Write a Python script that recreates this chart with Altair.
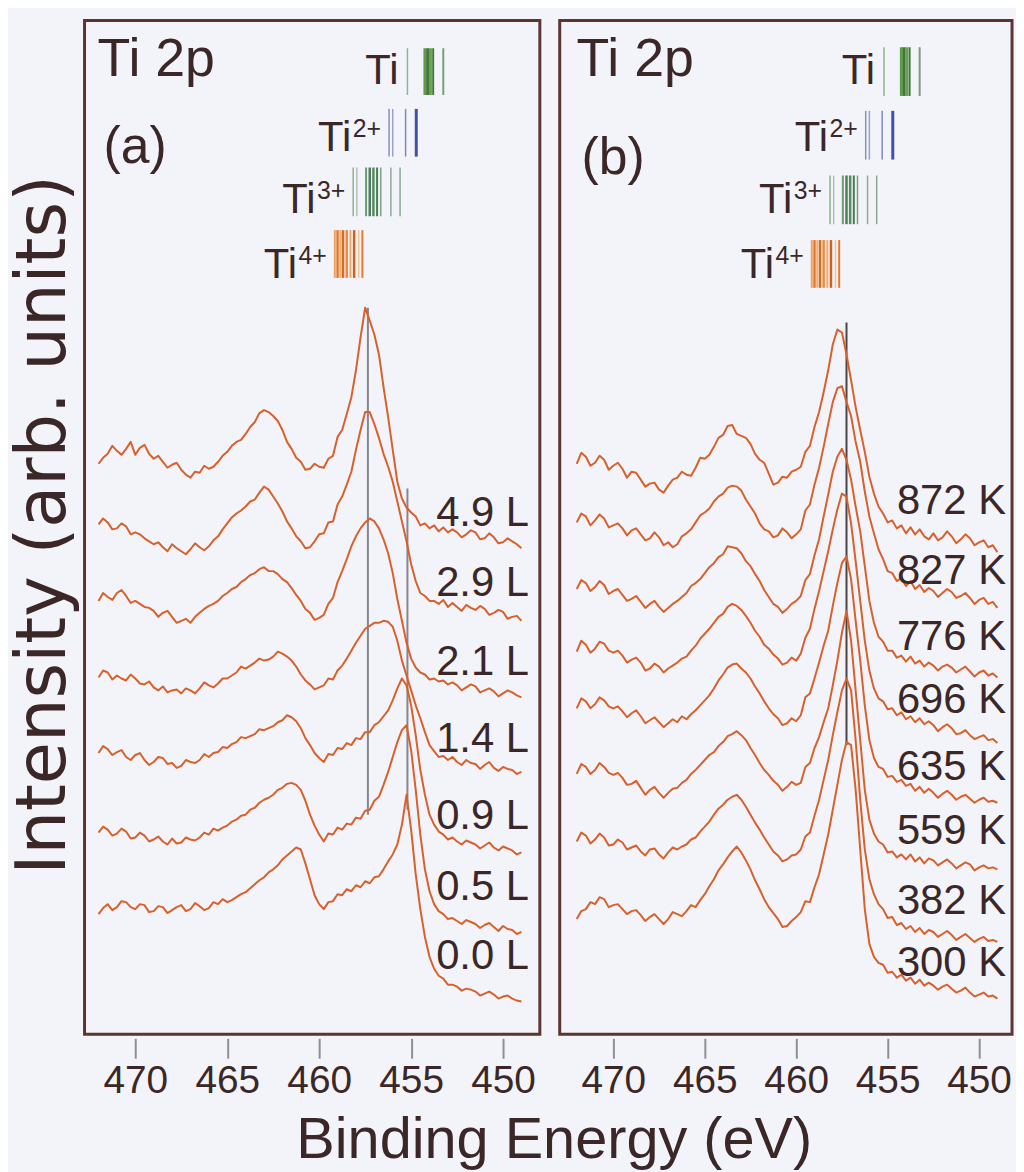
import altair as alt
import pandas as pd

# ---------------- data ----------------
# binding-energy grid (eV), shared by all spectra
energy = [472.0, 471.75, 471.5, 471.25, 471.0, 470.75, 470.5, 470.25, 470.0, 469.75,
          469.5, 469.25, 469.0, 468.75, 468.5, 468.25, 468.0, 467.75, 467.5, 467.25,
          467.0, 466.75, 466.5, 466.25, 466.0, 465.75, 465.5, 465.25, 465.0, 464.75,
          464.5, 464.25, 464.0, 463.75, 463.5, 463.25, 463.0, 462.75, 462.5, 462.25,
          462.0, 461.75, 461.5, 461.25, 461.0, 460.75, 460.5, 460.25, 460.0,
          459.75, 459.5, 459.25, 459.0, 458.75, 458.5, 458.25, 458.0, 457.75, 457.5,
          457.25, 457.0, 456.75, 456.5, 456.25, 456.0, 455.75, 455.5, 455.25, 455.0,
          454.75, 454.5, 454.25, 454.0, 453.75, 453.5, 453.25, 453.0,
          452.75, 452.5, 452.25, 452.0, 451.75, 451.5, 451.25, 451.0, 450.75, 450.5,
          450.25, 450.0, 449.75, 449.5, 449.25, 449.0]

# panel (a): O2 exposure series (stacked, arb. units)
a_names = ["4.9 L", "2.9 L", "2.1 L", "1.4 L", "0.9 L", "0.5 L", "0.0 L"]
a_4p9 = [574, 580, 584, 592, 587, 583, 589, 596, 583, 590, 593, 584, 579, 582, 576, 570, 573, 575, 568, 563,
         560, 566, 565, 572, 569, 571, 576, 582, 586, 592, 596, 598, 604, 611, 616, 625, 628, 626, 622, 617,
         608, 596, 589, 580, 576, 568, 569, 574, 571,
         570, 579, 582, 601, 608, 624, 641, 668, 701, 731, 718, 704, 684, 651, 621, 588, 556, 539, 530, 525,
         521, 512, 514, 509, 512, 506, 510, 505,
         508, 505, 500, 503, 507, 505, 498, 499, 504, 500, 494, 495, 499, 496, 493, 489]
a_2p9 = [513, 519, 515, 508, 509, 514, 511, 503, 505, 503, 499, 496, 493, 495, 490, 486, 493, 489, 486, 483,
         488, 494, 490, 487, 491, 497, 501, 508, 514, 520, 524, 527, 531, 536, 538, 545, 551, 548, 541, 534,
         526, 516, 509, 501, 496, 489, 490, 496, 503,
         504, 515, 516, 533, 541, 553, 566, 588, 608, 626, 626, 614, 600, 584, 571, 556, 536, 516, 496, 473,
         456, 444, 441, 436, 436, 433, 437, 430,
         434, 430, 426, 432, 429, 427, 431, 428, 422, 424, 427, 425, 418, 420, 421, 416]
a_2p1 = [436, 444, 440, 437, 444, 447, 441, 434, 436, 433, 430, 429, 426, 420, 424, 426, 420, 414, 416, 418,
         414, 420, 424, 428, 431, 433, 436, 441, 444, 448, 450, 455, 458, 462, 464, 468, 470, 466, 466, 463,
         458, 455, 449, 442, 436, 428, 424, 417, 419,
         422, 433, 439, 455, 466, 478, 491, 501, 509, 515, 519, 516, 509, 498, 484, 464, 438, 416, 394, 378,
         369, 364, 362, 357, 358, 355, 356, 352,
         354, 351, 346, 349, 352, 350, 344, 346, 348, 345, 340, 343, 346, 344, 341, 339]
a_1p4 = [359, 366, 364, 357, 361, 358, 356, 362, 358, 353, 352, 355, 349, 346, 350, 344, 346, 347, 343, 348,
         346, 343, 348, 354, 351, 349, 353, 358, 358, 361, 364, 370, 368, 371, 374, 378, 376, 377, 380, 385,
         383, 380, 376, 370, 362, 356, 352, 347, 349,
         351, 358, 357, 366, 371, 378, 386, 394, 401, 408, 411, 414, 414, 416, 415, 410, 396, 376, 361, 346,
         331, 318, 304, 291, 285, 279, 280, 276,
         279, 274, 271, 276, 273, 272, 267, 271, 274, 268, 265, 269, 267, 266, 262, 264]
a_0p9 = [283, 290, 287, 281, 284, 286, 279, 276, 281, 283, 276, 271, 274, 279, 278, 272, 273, 268, 270, 276,
         274, 273, 276, 282, 279, 283, 284, 289, 288, 292, 294, 299, 298, 300, 302, 307, 306, 308, 310, 314,
         316, 321, 319, 315, 308, 298, 291, 283, 278,
         274, 282, 281, 288, 287, 293, 291, 298, 297, 304, 304, 311, 314, 320, 326, 336, 348, 358, 351, 331,
         301, 266, 241, 221, 211, 204, 201, 196,
         198, 194, 191, 195, 193, 191, 187, 190, 193, 188, 185, 189, 187, 185, 181, 183]
a_0p5 = [203, 209, 206, 200, 202, 207, 204, 197, 198, 203, 200, 194, 196, 199, 194, 191, 197, 192, 193, 198,
         196, 195, 198, 203, 201, 207, 205, 208, 210, 214, 216, 220, 221, 226, 228, 233, 236, 238, 241, 246,
         248, 252, 253, 251, 246, 235, 221, 210, 201,
         194, 202, 201, 208, 206, 212, 211, 218, 217, 225, 226, 235, 239, 251, 264, 279, 294, 306, 311, 286,
         246, 201, 166, 144, 131, 124, 121, 116,
         117, 114, 111, 115, 113, 111, 107, 110, 112, 108, 104, 109, 106, 105, 101, 103]
a_0p0 = [121, 127, 131, 125, 128, 134, 133, 128, 126, 131, 130, 123, 124, 129, 128, 122, 125, 128, 130, 124,
         126, 132, 129, 125, 127, 133, 131, 136, 133, 135, 138, 141, 143, 147, 151, 155, 158, 163, 166, 170,
         176, 180, 184, 188, 186, 172, 156, 140, 131,
         126, 133, 134, 141, 140, 146, 144, 150, 148, 154, 152, 158, 159, 166, 174, 181, 191, 211, 241, 206,
         161, 126, 98, 78, 66, 59, 56, 50,
         50, 48, 44, 46, 45, 43, 39, 41, 43, 40, 36, 38, 39, 36, 34, 33]
a_series = [a_4p9, a_2p9, a_2p1, a_1p4, a_0p9, a_0p5, a_0p0]
a_label_I = [511, 441, 362, 284, 207, 135, 66]

# panel (b): annealing temperature series
b_names = ["872 K", "827 K", "776 K", "696 K", "635 K", "559 K", "382 K", "300 K"]
b_872 = [574, 585, 581, 572, 575, 582, 578, 568, 572, 575, 569, 560, 566, 565, 558, 551, 554, 555, 548, 545,
         552, 558, 560, 566, 563, 562, 570, 580, 579, 583, 591, 600, 603, 612, 613, 604, 602, 600, 594, 584,
         578, 575, 564, 553, 555, 561, 560, 566, 568,
         571, 586, 592, 611, 626, 646, 668, 694, 709, 706, 684, 658, 631, 608, 586, 561, 544, 531, 524, 515,
         517, 509, 512, 504, 510, 503, 508, 501,
         498, 504, 497, 500, 506, 501, 494, 498, 503, 499, 492, 495, 497, 490, 492, 485]
b_827 = [515, 524, 521, 512, 517, 523, 519, 510, 512, 514, 509, 502, 507, 509, 503, 497, 499, 505, 500, 492,
         495, 490, 493, 501, 504, 508, 515, 522, 525, 529, 536, 541, 544, 550, 552, 551, 547, 538, 531, 524,
         514, 508, 506, 500, 502, 509, 505, 499, 503,
         508, 527, 533, 553, 570, 591, 614, 636, 650, 652, 636, 622, 596, 576, 546, 521, 504, 488, 478, 466,
         464, 456, 459, 451, 456, 448, 452, 445,
         449, 446, 440, 444, 448, 445, 439, 441, 444, 439, 433, 437, 439, 433, 435, 429]
b_776 = [448, 457, 454, 446, 450, 456, 452, 443, 446, 448, 442, 436, 438, 441, 435, 429, 433, 436, 430, 425,
         429, 433, 436, 440, 444, 451, 454, 458, 464, 470, 474, 480, 483, 491, 490, 489, 484, 476, 471, 463,
         456, 447, 440, 433, 430, 424, 428, 433, 436,
         441, 457, 463, 482, 498, 521, 543, 566, 581, 589, 578, 558, 531, 506, 471, 436, 414, 400, 395, 386,
         386, 379, 381, 375, 380, 373, 376, 370,
         374, 371, 366, 370, 372, 369, 364, 367, 370, 365, 360, 364, 366, 361, 363, 359]
b_696 = [385, 396, 392, 384, 388, 395, 393, 386, 384, 386, 381, 374, 377, 379, 374, 366, 368, 373, 370, 364,
         368, 371, 374, 378, 380, 386, 391, 398, 403, 408, 414, 420, 423, 430, 433, 431, 427, 421, 414, 406,
         400, 392, 388, 382, 378, 372, 374, 379, 376,
         383, 399, 408, 428, 446, 466, 486, 508, 528, 544, 541, 514, 476, 436, 396, 366, 348, 338, 335, 327,
         328, 321, 324, 317, 320, 314, 318, 312,
         315, 311, 305, 309, 312, 308, 302, 303, 306, 301, 297, 299, 301, 296, 297, 293]
b_635 = [328, 338, 335, 328, 332, 339, 336, 330, 328, 330, 325, 319, 323, 326, 320, 313, 316, 319, 314, 309,
         313, 317, 314, 320, 317, 322, 326, 331, 336, 341, 348, 356, 362, 369, 372, 373, 368, 364, 358, 350,
         343, 335, 328, 322, 318, 311, 313, 318, 315,
         321, 339, 343, 358, 374, 391, 406, 431, 454, 474, 481, 458, 416, 376, 331, 296, 278, 269, 267, 259,
         260, 254, 256, 250, 252, 245, 249, 243,
         247, 243, 238, 242, 245, 241, 236, 239, 241, 237, 233, 236, 238, 234, 235, 233]
b_559 = [262, 272, 269, 262, 266, 273, 269, 263, 261, 263, 258, 251, 252, 255, 248, 241, 246, 249, 243, 238,
         243, 247, 248, 253, 256, 262, 266, 271, 276, 281, 284, 290, 294, 300, 302, 305, 301, 296, 288, 281,
         273, 266, 261, 255, 251, 245, 249, 254, 251,
         253, 269, 273, 288, 299, 314, 328, 351, 376, 404, 426, 396, 346, 296, 246, 216, 202, 194, 191, 183,
         184, 178, 181, 176, 181, 174, 178, 172,
         177, 175, 170, 173, 176, 172, 167, 170, 173, 171, 165, 168, 170, 167, 168, 166]
b_382 = [194, 203, 200, 192, 196, 202, 198, 190, 191, 196, 193, 186, 188, 190, 184, 180, 186, 187, 181, 177,
         183, 188, 186, 189, 191, 196, 198, 204, 209, 214, 221, 227, 231, 236, 239, 241, 236, 229, 221, 213,
         206, 198, 191, 184, 180, 174, 176, 180, 181,
         186, 199, 203, 220, 236, 256, 276, 301, 324, 346, 358, 346, 296, 236, 186, 156, 141, 131, 126, 117,
         118, 110, 112, 106, 109, 103, 107, 101,
         105, 103, 98, 101, 104, 100, 95, 98, 101, 97, 93, 96, 98, 94, 95, 93]
b_300 = [116, 124, 126, 133, 131, 138, 136, 128, 130, 131, 126, 121, 124, 125, 120, 114, 118, 121, 116, 111,
         116, 123, 121, 119, 124, 130, 128, 135, 141, 149, 156, 165, 171, 178, 184, 189, 183, 175, 166, 155,
         146, 136, 128, 122, 116, 108, 109, 114, 118,
         123, 134, 133, 148, 161, 181, 201, 226, 251, 276, 294, 291, 246, 186, 126, 91, 78, 72, 70, 62,
         63, 57, 60, 54, 57, 51, 55, 49,
         52, 49, 45, 48, 50, 46, 42, 44, 47, 42, 38, 40, 42, 38, 39, 36]
b_series = [b_872, b_827, b_776, b_696, b_635, b_559, b_382, b_300]
b_label_I = [523, 453, 387, 323, 256, 191, 121, 59]

# reference energies of the oxidation states (eV)
ti0_E = [455.2, 454.25, 454.1, 453.95, 453.8, 453.25]
ti2_E = [456.2, 456.0, 455.3, 454.72]
ti3_E = [458.15, 457.95, 457.45, 457.25, 457.05, 456.85, 456.65, 456.1, 455.6]
ti4_E = [459.15, 459.0, 458.85, 458.7, 458.5, 458.3, 458.1, 457.85, 457.65]
state_names = ["Ti", "Ti", "Ti", "Ti"]
state_sups = ["", "2+", "3+", "4+"]

# guide lines through the peaks (eV, arb. units)
a_guide_E = [457.35, 455.2]
a_guide_lo = [221, 226]
a_guide_hi = [731, 549]
b_guide_E = [457.25]
b_guide_lo = [291]
b_guide_hi = [716]

# ---------------- styles ----------------
FONT = "Liberation Sans"
INK = "#3b2727"
FRAME = "#5a3533"
CURVE = "#d8602c"
BG = "#f3f4f9"

ti0_col = ["#93b28e", "#5f9a4f", "#3f7a35", "#6aa055", "#3f7a35", "#7d9a80"]
ti0_w = [1.5, 3, 3, 3, 2, 2]
ti2_col = ["#8890c0", "#9aa0c8", "#8088b8", "#4050a8"]
ti2_w = [1.5, 1.5, 1.5, 3]
ti3_col = ["#8fb090", "#a0b8a0", "#6a9a70", "#4f7f5a", "#5a8a60", "#4a7a55", "#7aa080", "#90a898", "#8aa890"]
ti3_w = [1.5, 1.2, 2, 2.5, 2.5, 2, 1.5, 1.5, 1.5]
ti4_col = ["#f0a060", "#e07a30", "#f5b070", "#d86a28", "#e88a40", "#f0a868", "#d06020", "#f6c090", "#e07a30"]
ti4_w = [2, 2.5, 2, 2.5, 2.5, 2, 2.5, 1.5, 2]

# vertical extents of the state-marker rows and label baselines (arb. units)
a_rows = [(945, 992), (883, 931), (823, 872), (761, 809)]
b_rows = [(944, 993), (880, 929), (815, 864), (751, 799)]
row_base = [956, 889, 826, 761]


def curves_df(names, series):
    rows = []
    for n, s in zip(names, series):
        for e, v in zip(energy, s):
            rows.append({"curve": n, "E": e, "I": v})
    return pd.DataFrame(rows)


def markers_df(rows):
    out = []
    for (lo, hi), es, cs, ws in zip(rows, [ti0_E, ti2_E, ti3_E, ti4_E],
                                    [ti0_col, ti2_col, ti3_col, ti4_col],
                                    [ti0_w, ti2_w, ti3_w, ti4_w]):
        for e, c, w in zip(es, cs, ws):
            out.append({"E": e, "I": lo, "I2": hi, "c": c, "w": w})
    return pd.DataFrame(out)


def panel(dom, names, series, label_I, label_E, rows, guide, tag, pos,
          show_ytitle, show_xtitle, guide_color):
    xaxis = alt.Axis(values=[470, 465, 460, 455, 450], format="d", tickSize=20,
                     tickWidth=2, tickColor="#8e8e94", domain=False, grid=False,
                     offset=4, labelFont=FONT, labelFontSize=39, labelColor=INK,
                     labelPadding=3, labelFlush=False, labelOverlap=False,
                     titleFont=FONT, titleFontSize=58, titleFontWeight="normal",
                     titleColor=INK, titleX=472, titleY=120, titleAlign="center",
                     titleBaseline="alphabetic")
    x = alt.X("E:Q", scale=alt.Scale(domain=dom, nice=False, zero=False),
              axis=xaxis, title="Binding Energy (eV)" if show_xtitle else "")
    yscale = alt.Scale(domain=[0, 1020], nice=False, zero=False)
    if show_ytitle:
        y = alt.Y("I:Q", scale=yscale, title="Intensity (arb. units)",
                  axis=alt.Axis(labels=False, ticks=False, domain=False, grid=False,
                                titleFont="DejaVu Sans", titleFontSize=69,
                                titleFontWeight="normal", titleColor=INK,
                                titleX=-41, titleY=507, titleAngle=270,
                                titleAlign="center", titleBaseline="middle"))
    else:
        y = alt.Y("I:Q", scale=yscale, axis=None)

    lines = alt.Chart(curves_df(names, series)).mark_line(
        color=CURVE, strokeWidth=2, strokeJoin="round").encode(x=x, y=y, detail="curve:N")

    gE, glo, ghi = guide
    guides = alt.Chart(pd.DataFrame({"E": gE, "I": glo, "I2": ghi})).mark_rule(
        color=guide_color, strokeWidth=2).encode(x=x, y=y, y2="I2:Q")

    marks = alt.Chart(markers_df(rows)).mark_rule().encode(
        x=x, y=y, y2="I2:Q",
        color=alt.Color("c:N", scale=None),
        strokeWidth=alt.StrokeWidth("w:Q", scale=None))

    first_E = [ti0_E[0], ti2_E[0], ti3_E[0], ti4_E[0]]
    base_df = pd.DataFrame({"E": first_E, "I": row_base, "text": state_names})
    ti_plain = alt.Chart(base_df.iloc[:1]).mark_text(
        align="right", baseline="alphabetic", dx=-9, font=FONT, fontSize=42,
        color=INK).encode(x=x, y=y, text="text:N")
    ti_sup_base = alt.Chart(base_df.iloc[1:]).mark_text(
        align="right", baseline="alphabetic", dx=-38, font=FONT, fontSize=42,
        color=INK).encode(x=x, y=y, text="text:N")
    sup_df = pd.DataFrame({"E": first_E[1:], "I": [v + 14 for v in row_base[1:]],
                           "text": state_sups[1:]})
    ti_sup = alt.Chart(sup_df).mark_text(
        align="right", baseline="alphabetic", dx=-8, font=FONT, fontSize=25,
        color=INK).encode(x=x, y=y, text="text:N")

    right = alt.Chart(pd.DataFrame({"E": [label_E] * len(names), "I": label_I,
                                    "text": names})).mark_text(
        align="right", baseline="alphabetic", font=FONT, fontSize=42,
        color=INK).encode(x=x, y=y, text="text:N")

    (t2p_E, t2p_I), (tag_E, tag_I) = pos
    head = alt.Chart(pd.DataFrame({"E": [t2p_E], "I": [t2p_I], "text": ["Ti 2p"]})).mark_text(
        align="left", baseline="alphabetic", font=FONT, fontSize=54,
        color=INK).encode(x=x, y=y, text="text:N")
    tagc = alt.Chart(pd.DataFrame({"E": [tag_E], "I": [tag_I], "text": [tag]})).mark_text(
        align="left", baseline="alphabetic", font=FONT, fontSize=52,
        color=INK).encode(x=x, y=y, text="text:N")

    w = 458 if show_ytitle else 455
    return alt.layer(guides, lines, marks, ti_plain, ti_sup_base, ti_sup,
                     right, head, tagc).properties(width=w, height=1020)


pa = panel([472.76, 448.0], a_names, a_series, a_label_I, 448.59, a_rows,
           (a_guide_E, a_guide_lo, a_guide_hi), "(a)",
           ((472.05, 964), (471.73, 877)), True, True, "#85858c")
pb = panel([472.93, 448.2], b_names, b_series, b_label_I, 448.53, b_rows,
           (b_guide_E, b_guide_lo, b_guide_hi), "(b)",
           ((472.01, 964), (471.74, 865)), False, False, "#4a4446")

chart = alt.hconcat(pa, pb, spacing=20, bounds="flush").properties(
    background=BG, padding={"left": 0, "top": 7, "right": 2, "bottom": 0}
).configure_view(stroke=FRAME, strokeWidth=3)

chart.save("out.html", embed_options={"renderer": "svg", "actions": False})
